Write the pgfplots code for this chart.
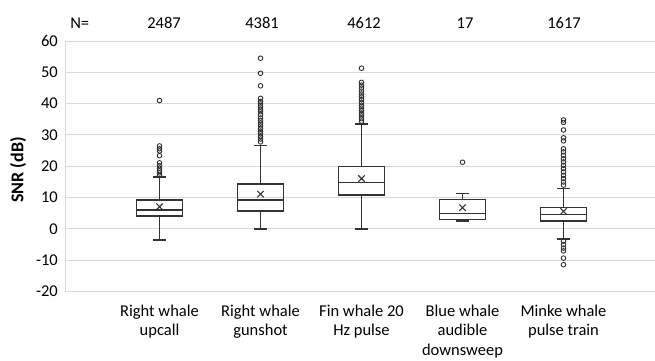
\documentclass[border=0pt]{standalone}
\usepackage{pgfplots}
\pgfplotsset{compat=1.18}
\usepgfplotslibrary{statistics}
\usepackage{fontspec}
\setmainfont{Carlito}
\definecolor{gridgray}{HTML}{D9D9D9}
\definecolor{boxcol}{HTML}{333333}
\begin{document}
\begin{tikzpicture}
\useasboundingbox (0,0) rectangle (655pt,360pt);
\begin{axis}[
  at={(66pt,68.4pt)}, anchor=south west,
  scale only axis, width=589pt, height=250.6pt,
  xmin=0.074, xmax=5.906, ymin=-20, ymax=60,
  ytick={-20,-10,...,60},
  xtick={1,2,3,4,5},
  xticklabels={{Right whale\\upcall},{Right whale\\gunshot},{Fin whale 20\\Hz pulse},{Blue whale\\audible\\downsweep},{Minke whale\\pulse train}},
  xticklabel style={align=center, font=\fontsize{16.5}{19.5}\selectfont, inner sep=0pt, anchor=north, yshift=-13pt},
  yticklabel style={font=\fontsize{16.5}{20}\selectfont, inner sep=0pt, anchor=east, xshift=-8pt},
  /pgf/number format/assume math mode=true,
  major tick length=0pt,
  ymajorgrids, grid style={gridgray, line width=1pt},
  axis lines*=left,
  axis line style={gridgray, line width=1pt, -},
  ylabel={SNR (dB)},
  ylabel style={font=\fontsize{18}{20}\selectfont\bfseries, at={(axis description cs:-0.0815,0.485)}, anchor=center},
  clip=false,
  boxplot/draw direction=y,
]
\addplot[boxcol, line width=1.4pt, boxplot prepared={draw position=1, lower whisker=-3.5, lower quartile=4.1, median=6.0, upper quartile=9.2, upper whisker=16.6, box extend=0.45, whisker extend=0.13}] coordinates {};
\addplot[boxcol, line width=1.4pt, boxplot prepared={draw position=2, lower whisker=0, lower quartile=5.7, median=9.2, upper quartile=14.3, upper whisker=26.7, box extend=0.45, whisker extend=0.13}] coordinates {};
\addplot[boxcol, line width=1.4pt, boxplot prepared={draw position=3, lower whisker=0, lower quartile=10.8, median=14.8, upper quartile=20.0, upper whisker=33.5, box extend=0.45, whisker extend=0.13}] coordinates {};
\addplot[boxcol, line width=1.4pt, boxplot prepared={draw position=4, lower whisker=2.6, lower quartile=3.1, median=4.9, upper quartile=9.4, upper whisker=11.3, box extend=0.45, whisker extend=0.13}] coordinates {};
\addplot[boxcol, line width=1.4pt, boxplot prepared={draw position=5, lower whisker=-3.2, lower quartile=2.6, median=4.7, upper quartile=6.9, upper whisker=12.9, box extend=0.45, whisker extend=0.13}] coordinates {};
% means
\addplot[only marks, mark=x, mark size=4.5pt, boxcol, line width=1.1pt] coordinates {(1,7.1) (2,11.1) (3,16.1) (4,6.8) (5,5.6)};
% outliers
\addplot[only marks, mark=o, mark size=2.3pt, boxcol, line width=0.9pt] coordinates {
(1,41.0) (1,26.5) (1,25.6) (1,24.9) (1,23.4) (1,21.1) (1,20.2) (1,19.4) (1,18.6) (1,17.9) (1,17.1)
(2,54.5) (2,49.7) (2,45.7) (2,41.7) (2,40.7) (2,39.9) (2,39.0) (2,38.2) (2,37.4) (2,36.5) (2,35.4) (2,34.6) (2,33.8) (2,32.9) (2,32.1) (2,31.2) (2,30.4) (2,29.5) (2,28.7) (2,27.8)
(3,51.3) (3,46.8) (3,45.9) (3,45.0) (3,44.0) (3,43.1) (3,42.2) (3,41.3) (3,40.4) (3,39.5) (3,38.6) (3,37.8) (3,36.9) (3,36.1) (3,35.2) (3,34.4)
(4,21.3)
(5,34.8) (5,34.0) (5,31.6) (5,29.1) (5,28.1) (5,25.6) (5,24.6) (5,23.5) (5,22.4) (5,21.4) (5,20.3) (5,19.3) (5,18.2) (5,17.1) (5,16.1) (5,15.0) (5,14.0)
(5,-3.9) (5,-5.0) (5,-6.1) (5,-7.0) (5,-9.3) (5,-11.4)
};
\node[anchor=base, font=\fontsize{16.5}{20}\selectfont, yshift=13pt] at (axis cs:0.21,60) {N=};
\node[anchor=base, font=\fontsize{16.5}{20}\selectfont, yshift=13pt] at (axis cs:1.045,60) {2487};
\node[anchor=base, font=\fontsize{16.5}{20}\selectfont, yshift=13pt] at (axis cs:2.015,60) {4381};
\node[anchor=base, font=\fontsize{16.5}{20}\selectfont, yshift=13pt] at (axis cs:3.025,60) {4612};
\node[anchor=base, font=\fontsize{16.5}{20}\selectfont, yshift=13pt] at (axis cs:4.025,60) {17};
\node[anchor=base, font=\fontsize{16.5}{20}\selectfont, yshift=13pt] at (axis cs:5.005,60) {1617};
\end{axis}
\end{tikzpicture}
\end{document}
